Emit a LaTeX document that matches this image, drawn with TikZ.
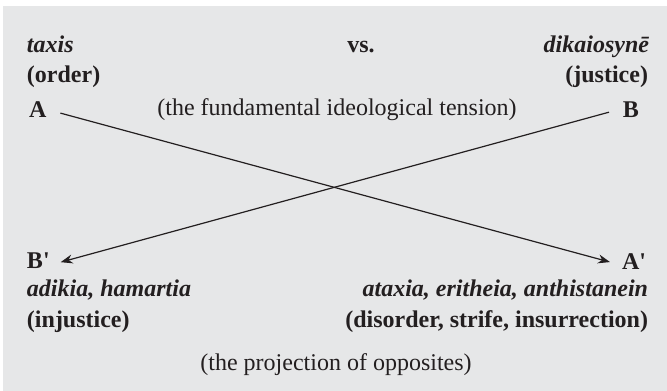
\documentclass[tikz,border=0pt]{standalone}
\usepackage{fontspec}
\setmainfont{LiberationSerif}[Extension=.ttf, UprightFont=*-Regular, BoldFont=*-Bold, ItalicFont=*-Italic, BoldItalicFont=*-BoldItalic]
\usetikzlibrary{arrows.meta}
\definecolor{bgc}{RGB}{230,231,232}
\definecolor{ink}{RGB}{35,31,32}
\newcommand{\pr}{\textquotesingle}
\tikzset{
  txt/.style={inner sep=0pt, outer sep=0pt, text=ink, font=\fontsize{24}{28}\selectfont},
  bi/.style={txt, font=\fontsize{24}{28}\selectfont\bfseries\itshape},
  bd/.style={txt, font=\fontsize{24}{28}\selectfont\bfseries},
  arr/.style={draw=ink, line width=1.2pt, -{Stealth[length=12pt,width=9pt]}}
}
\begin{document}
\begin{tikzpicture}[x=1pt,y=-1pt]
\useasboundingbox (0,0) rectangle (667,391);
\fill[bgc] (3,6) rectangle (667,391);
% top left
\node[bi, anchor=base west] (taxis) at (27,52) {taxis};
\node[bd, anchor=base west] (order) at (27,82) {(order)};
\node[bd, anchor=base west] (A) at (29,117) {A};
% top centre
\node[bd, anchor=base] (vs) at (361,52) {vs.};
\node[txt, anchor=base] (tension) at (337,115) {(the fundamental ideological tension)};
% top right
\node[bi, anchor=base east] (dik) at (649,52) {dikaiosynē};
\node[bd, anchor=base east] (just) at (648,82) {(justice)};
\node[bd, anchor=base east] (B) at (639,117) {B};
% bottom left
\node[bd, anchor=base west] (Bp) at (27,268) {B\pr};
\node[bi, anchor=base west] (adikia) at (27,296) {adikia, hamartia};
\node[bd, anchor=base west] (injust) at (27,327) {(injustice)};
% bottom right
\node[bd, anchor=base west] (Ap) at (622,269) {A\pr};
\node[bi, anchor=base east] (ataxia) at (648,296) {ataxia, eritheia, anthistanein};
\node[bd, anchor=base east] (disorder) at (648,327) {(disorder, strife, insurrection)};
% bottom centre
\node[txt, anchor=base] (proj) at (336,370) {(the projection of opposites)};
% connectors
\draw[arr] ([shift={(14,4)}]A.east) -- ([shift={(-12,1)}]Ap.west);
\draw[arr] ([shift={(-14,3)}]B.west) -- ([shift={(11,2)}]Bp.east);
\end{tikzpicture}
\end{document}
